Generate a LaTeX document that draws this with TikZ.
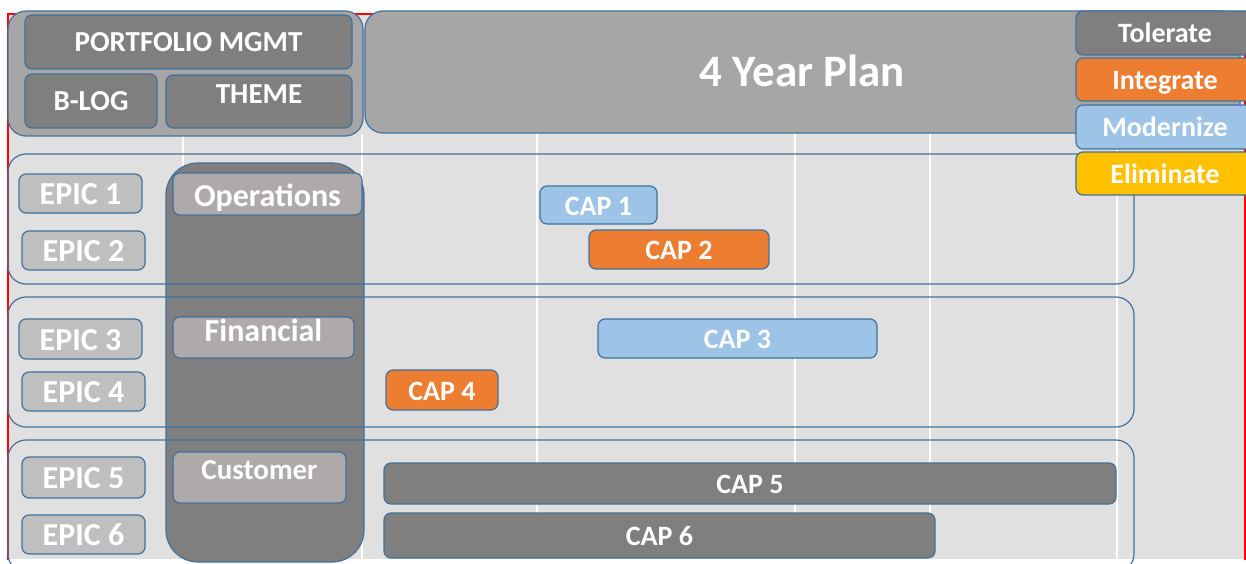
\documentclass[tikz,border=0pt]{standalone}
\usepackage{fontspec}
\setmainfont{Carlito}
\definecolor{bg}{HTML}{E0E0E0}
\definecolor{midgray}{HTML}{A6A6A6}
\definecolor{darkgray}{HTML}{7F7F7F}
\definecolor{epicgray}{HTML}{BFBFBF}
\definecolor{catgray}{HTML}{AEAAAA}
\definecolor{capblue}{HTML}{9DC3E6}
\definecolor{caporange}{HTML}{ED7D31}
\definecolor{capyellow}{HTML}{FFC000}
\definecolor{bord}{HTML}{41719C}
\definecolor{redline}{HTML}{FF0000}
\newcommand\rbox[7]{\node[#1, minimum width={(#5-#3)*1pt}, minimum height={(#6-#4)*1pt}] (#2) at ({(#3+#5)/2},{(#4+#6)/2}) {#7};}
\tikzset{
  base/.style={draw=bord, line width=1.2pt, rounded corners=7pt, inner sep=0pt, text=white,
    font=\bfseries\fontsize{28}{30}\selectfont, text height=20pt, text depth=0pt},
  hdr/.style={base, fill=darkgray, font=\bfseries\fontsize{29}{31}\selectfont},
  epicbox/.style={base, fill=epicgray, font=\bfseries\fontsize{32}{34}\selectfont, text height=22pt},
  catbox/.style={base, fill=catgray, font=\bfseries\fontsize{32}{34}\selectfont, text height=24pt},
  capdark/.style={base, fill=darkgray},
  capblue/.style={base, fill=capblue},
  caporange/.style={base, fill=caporange},
  legdark/.style={base, fill=darkgray},
  legorange/.style={base, fill=caporange},
  legblue/.style={base, fill=capblue},
  legyellow/.style={base, fill=capyellow},
  lane/.style={draw=bord, line width=1.2pt, rounded corners=18pt, inner sep=0pt},
  lbl/.style={text=white, inner sep=0pt, font=\bfseries\fontsize{29}{31}\selectfont},
  grid/.style={white, line width=2.5pt}
}
\begin{document}
\begin{tikzpicture}[x=1pt,y=-1pt]
\useasboundingbox (0,0) rectangle (1246,564);
% background
\fill[bg] (8,14) rectangle (1245,559);
\draw[redline, line width=1.2pt] (8,560) -- (8,14) -- (1245,14) -- (1245,560);
% grid lines
\foreach \gx in {183,362,537,795,930,1117} \draw[grid] (\gx,134) -- (\gx,559);
% top-left group
\rbox{base, fill=midgray, rounded corners=18pt}{pgroup}{8}{11}{363}{136}{}
\rbox{hdr}{portfolio}{25}{15}{352}{69}{PORTFOLIO MGMT}
\rbox{hdr}{blog}{25}{74}{157}{128}{B-LOG}
\rbox{hdr}{theme}{166}{75}{352}{128}{}
\node[lbl] (themet) at ([yshift=7pt]theme.center) {THEME};
% 4 year plan
\rbox{base, fill=midgray, rounded corners=18pt, font=\bfseries\fontsize{45}{47}\selectfont, text height=30pt}{plan}{365}{11}{1240}{133}{4 Year Plan}
% dark column
\rbox{base, fill=darkgray, rounded corners=32pt}{column}{166}{163}{364}{562}{}
% lanes
\rbox{lane}{lane1}{8}{154}{1134}{284}{}
\rbox{lane}{lane2}{8}{297}{1134}{427}{}
\rbox{lane}{lane3}{8}{440}{1134}{572}{}
% categories
\rbox{catbox}{ops}{173}{173}{362}{215}{Operations}
\rbox{catbox}{fin}{173}{317}{354}{358}{}
\node[lbl, font=\bfseries\fontsize{32}{34}\selectfont] (fint) at ([yshift=7pt]fin.center) {Financial};
\rbox{catbox}{cust}{173}{452}{346}{503}{}
\node[lbl] (custt) at ([yshift=7pt]cust.center) {Customer};
% epics
\rbox{epicbox}{epic1}{19}{174}{142}{213}{EPIC 1}
\rbox{epicbox}{epic2}{22}{231}{145}{270}{EPIC 2}
\rbox{epicbox}{epic3}{19}{319}{142}{359}{EPIC 3}
\rbox{epicbox}{epic4}{22}{372}{145}{411}{EPIC 4}
\rbox{epicbox}{epic5}{22}{457}{145}{498}{EPIC 5}
\rbox{epicbox}{epic6}{22}{515}{145}{554}{EPIC 6}
% caps
\rbox{capblue}{cap1}{540}{186}{657}{224}{CAP 1}
\rbox{caporange}{cap2}{589}{230}{769}{269}{CAP 2}
\rbox{capblue}{cap3}{598}{319}{877}{358}{CAP 3}
\rbox{caporange}{cap4}{386}{370}{498}{410}{CAP 4}
\rbox{capdark}{cap5}{384}{463}{1116}{504}{CAP 5}
\rbox{capdark}{cap6}{384}{513}{935}{558}{CAP 6}
% legend
\rbox{legdark}{tolerate}{1076}{11}{1254}{55}{Tolerate}
\rbox{legorange}{integrate}{1076}{58}{1254}{101}{Integrate}
\rbox{legblue}{modernize}{1076}{105}{1254}{149}{Modernize}
\rbox{legyellow}{eliminate}{1076}{152}{1254}{195}{Eliminate}
\end{tikzpicture}
\end{document}
